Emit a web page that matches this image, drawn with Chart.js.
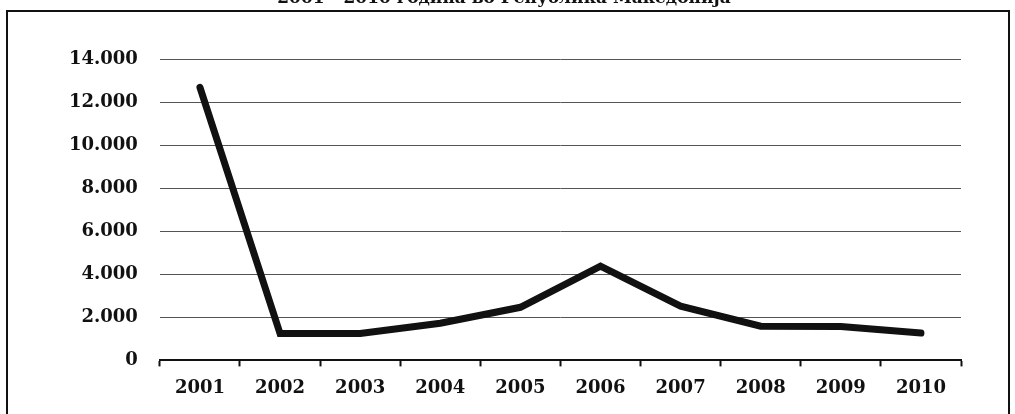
<!DOCTYPE html>
<html>
<head>
<meta charset="utf-8">
<script src="https://cdn.jsdelivr.net/npm/chart.js@4.4.1/dist/chart.umd.min.js"></script>
<style>
  html, body { margin: 0; padding: 0; background: #fff; overflow: hidden; }
  body { width: 1015px; height: 414px; position: relative; }
  #wrap { position: absolute; left: 0; top: -18px; width: 1015px; height: 432px; }
  #frame {
    position: absolute; left: 6px; top: 10px; width: 1000px; height: 420px;
    border: 2px solid #111; border-bottom: none; pointer-events: none;
  }
</style>
</head>
<body>
<div id="wrap"><canvas id="chart"></canvas></div>
<div id="frame"></div>
<script>
const years = ["2001", "2002", "2003", "2004", "2005", "2006", "2007", "2008", "2009", "2010"];
const values = [12700, 1250, 1250, 1730, 2470, 4380, 2520, 1590, 1580, 1270];
const yTicks = [0, 2000, 4000, 6000, 8000, 10000, 12000, 14000];
const title = "2001 - 2010 година во Република Македонија";

// thousands with a dot, e.g. 14.000
function fmt(v) {
    return String(v).replace(/\B(?=(\d{3})+(?!\d))/g, ".");
}

const font = { family: "'DejaVu Serif', serif", weight: "bold", size: 18 };

new Chart(document.getElementById("chart"), {
    type: "line",
    data: {
        labels: years,
        datasets: [{
            data: values,
            borderColor: "#111",
            borderWidth: 7,
            borderCapStyle: "round",
            pointRadius: 0,
            tension: 0
        }]
    },
    options: {
        responsive: true,
        maintainAspectRatio: false,
        animation: false,
        layout: { padding: { left: 47, right: 54, top: 0, bottom: 4 } },
        plugins: {
            legend: { display: false },
            tooltip: { enabled: false },
            title: {
                display: true,
                text: title,
                color: "#111",
                font: { family: "'DejaVu Serif', serif", weight: "bold", size: 17 },
                padding: { top: 6, bottom: 51 }
            }
        },
        scales: {
            x: {
                offset: true,
                grid: {
                    offset: true,
                    drawOnChartArea: false,
                    drawTicks: true,
                    tickLength: 6,
                    tickWidth: 2,
                    tickColor: "#111"
                },
                border: { display: true, color: "#111", width: 2 },
                ticks: { color: "#111", font: font, padding: 11, maxRotation: 0 }
            },
            y: {
                min: 0,
                max: 14000,
                afterBuildTicks: axis => { axis.ticks = yTicks.map(v => ({ value: v })); },
                grid: { color: "#555", lineWidth: 1, drawTicks: false },
                border: { display: false },
                ticks: { color: "#111", font: font, padding: 22, callback: v => fmt(v) }
            }
        }
    }
});
</script>
</body>
</html>
